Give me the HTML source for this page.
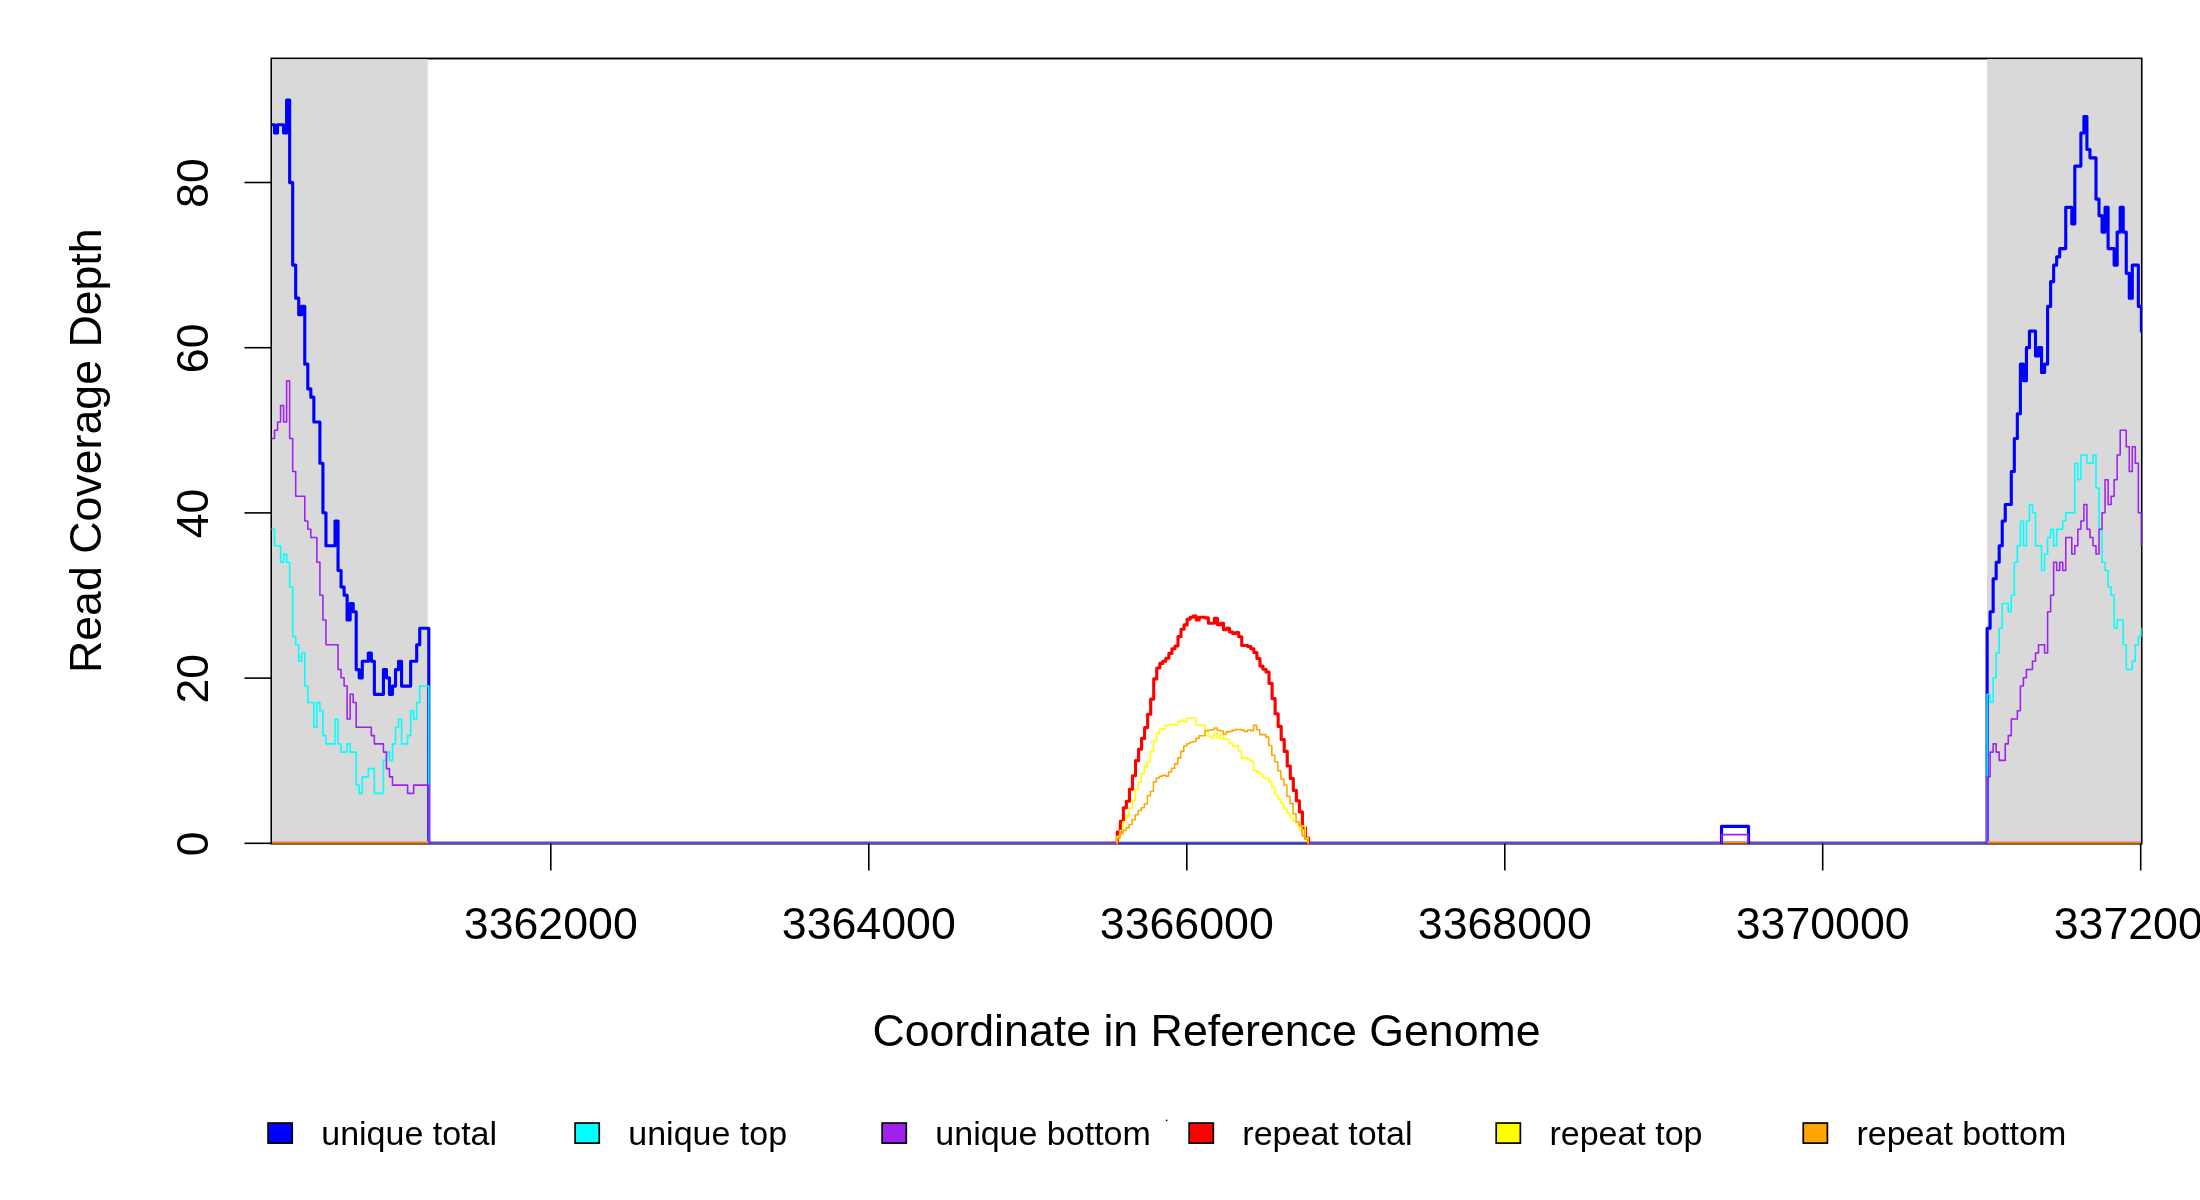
<!DOCTYPE html>
<html><head><meta charset="utf-8"><title>Read Coverage Depth</title>
<style>
html,body{margin:0;padding:0;background:#ffffff;width:2200px;height:1200px;overflow:hidden;}
svg{display:block;will-change:transform;}
text{font-family:"Liberation Sans",sans-serif;fill:#000;}
</style></head><body>
<svg width="2200" height="1200" viewBox="0 0 2200 1200">
<defs><clipPath id="plotclip"><rect x="271.4" y="57" width="1870.3" height="786.9"/></clipPath></defs>
<rect x="0" y="0" width="2200" height="1200" fill="#ffffff"/>
<rect x="271.4" y="58.5" width="1870.2" height="785.1" fill="none" stroke="#000" stroke-width="1.9"/>
<rect x="272.0" y="59.1" width="155.7" height="784.4" fill="#d9d9d9"/>
<rect x="1987.1" y="59.1" width="153.8" height="784.4" fill="#d9d9d9"/>
<g clip-path="url(#plotclip)">
<rect x="428.0" y="841" width="689.0" height="1" fill="#c890cc" shape-rendering="crispEdges"/>
<rect x="428.0" y="842" width="689.0" height="1" fill="#4b4bf5" shape-rendering="crispEdges"/>
<rect x="428.0" y="843" width="689.0" height="1" fill="#5e5a9a" shape-rendering="crispEdges"/>
<rect x="428.0" y="844" width="689.0" height="1" fill="#6a686e" shape-rendering="crispEdges"/>
<rect x="1117.0" y="841" width="191.0" height="1" fill="#c4c4f8" shape-rendering="crispEdges"/>
<rect x="1117.0" y="842" width="191.0" height="1" fill="#4b4bf5" shape-rendering="crispEdges"/>
<rect x="1117.0" y="843" width="191.0" height="1" fill="#2c3c98" shape-rendering="crispEdges"/>
<rect x="1117.0" y="844" width="191.0" height="1" fill="#6e6e70" shape-rendering="crispEdges"/>
<rect x="1308.0" y="841" width="679.0" height="1" fill="#c890cc" shape-rendering="crispEdges"/>
<rect x="1308.0" y="842" width="679.0" height="1" fill="#4b4bf5" shape-rendering="crispEdges"/>
<rect x="1308.0" y="843" width="679.0" height="1" fill="#5e5a9a" shape-rendering="crispEdges"/>
<rect x="1308.0" y="844" width="679.0" height="1" fill="#6a686e" shape-rendering="crispEdges"/>
<path d="M271.50 124.80 L274.52 124.80 L274.52 133.06 L277.55 133.06 L277.55 124.80 L280.57 124.80 L280.57 124.80 L283.60 124.80 L283.60 133.06 L286.62 133.06 L286.62 100.04 L289.65 100.04 L289.65 182.58 L292.68 182.58 L292.68 265.12 L295.70 265.12 L295.70 298.14 L298.73 298.14 L298.73 314.64 L301.75 314.64 L301.75 306.39 L304.77 306.39 L304.77 364.17 L307.80 364.17 L307.80 388.93 L310.82 388.93 L310.82 397.18 L313.85 397.18 L313.85 421.95 L316.88 421.95 L316.88 421.95 L319.90 421.95 L319.90 463.22 L322.93 463.22 L322.93 512.74 L325.95 512.74 L325.95 545.76 L328.98 545.76 L328.98 545.76 L332.00 545.76 L332.00 545.76 L335.02 545.76 L335.02 520.99 L338.05 520.99 L338.05 570.52 L341.07 570.52 L341.07 587.03 L344.10 587.03 L344.10 595.28 L347.12 595.28 L347.12 620.04 L350.15 620.04 L350.15 603.53 L353.18 603.53 L353.18 611.79 L356.20 611.79 L356.20 669.57 L359.23 669.57 L359.23 677.82 L362.25 677.82 L362.25 661.31 L365.27 661.31 L365.27 661.31 L368.30 661.31 L368.30 653.06 L371.32 653.06 L371.32 661.31 L374.35 661.31 L374.35 694.33 L377.38 694.33 L377.38 694.33 L380.40 694.33 L380.40 694.33 L383.43 694.33 L383.43 669.57 L386.45 669.57 L386.45 677.82 L389.48 677.82 L389.48 694.33 L392.50 694.33 L392.50 686.07 L395.52 686.07 L395.52 669.57 L398.55 669.57 L398.55 661.31 L401.57 661.31 L401.57 686.07 L404.60 686.07 L404.60 686.07 L407.62 686.07 L407.62 686.07 L410.65 686.07 L410.65 661.31 L413.67 661.31 L413.67 661.31 L416.70 661.31 L416.70 644.80 L419.73 644.80 L419.73 628.30 L422.75 628.30 L422.75 628.30 L425.77 628.30 L425.77 628.30 L428.80 628.30 L428.80 842.90" fill="none" stroke="#0000ff" stroke-width="3.125" stroke-linejoin="round" stroke-linecap="round"/>
<path d="M1987.10 842.90 L1987.10 628.30 L1990.12 628.30 L1990.12 611.79 L1993.15 611.79 L1993.15 578.77 L1996.17 578.77 L1996.17 562.26 L1999.20 562.26 L1999.20 545.76 L2002.22 545.76 L2002.22 520.99 L2005.25 520.99 L2005.25 504.49 L2008.27 504.49 L2008.27 504.49 L2011.30 504.49 L2011.30 471.47 L2014.32 471.47 L2014.32 438.45 L2017.35 438.45 L2017.35 413.69 L2020.38 413.69 L2020.38 364.17 L2023.40 364.17 L2023.40 380.68 L2026.42 380.68 L2026.42 347.66 L2029.45 347.66 L2029.45 331.15 L2032.47 331.15 L2032.47 331.15 L2035.50 331.15 L2035.50 355.91 L2038.52 355.91 L2038.52 347.66 L2041.55 347.66 L2041.55 372.42 L2044.57 372.42 L2044.57 364.17 L2047.60 364.17 L2047.60 306.39 L2050.62 306.39 L2050.62 281.63 L2053.65 281.63 L2053.65 265.12 L2056.67 265.12 L2056.67 256.87 L2059.70 256.87 L2059.70 248.61 L2062.72 248.61 L2062.72 248.61 L2065.75 248.61 L2065.75 207.34 L2068.78 207.34 L2068.78 207.34 L2071.80 207.34 L2071.80 223.85 L2074.82 223.85 L2074.82 166.07 L2077.85 166.07 L2077.85 166.07 L2080.88 166.07 L2080.88 133.06 L2083.90 133.06 L2083.90 116.55 L2086.92 116.55 L2086.92 149.56 L2089.95 149.56 L2089.95 157.82 L2092.97 157.82 L2092.97 157.82 L2096.00 157.82 L2096.00 199.09 L2099.03 199.09 L2099.03 215.60 L2102.05 215.60 L2102.05 232.10 L2105.07 232.10 L2105.07 207.34 L2108.10 207.34 L2108.10 248.61 L2111.12 248.61 L2111.12 248.61 L2114.15 248.61 L2114.15 265.12 L2117.17 265.12 L2117.17 232.10 L2120.20 232.10 L2120.20 207.34 L2123.22 207.34 L2123.22 232.10 L2126.25 232.10 L2126.25 273.37 L2129.28 273.37 L2129.28 298.14 L2132.30 298.14 L2132.30 265.12 L2135.32 265.12 L2135.32 265.12 L2138.35 265.12 L2138.35 306.39 L2141.38 306.39 L2141.38 331.15" fill="none" stroke="#0000ff" stroke-width="3.125" stroke-linejoin="round" stroke-linecap="round"/>
<path d="M1721.5 842.90 L1721.5 826.39 L1748.5 826.39 L1748.5 842.90" fill="none" stroke="#0000ff" stroke-width="3.125" stroke-linejoin="round" stroke-linecap="round"/>
<path d="M271.50 529.25 L274.52 529.25 L274.52 545.76 L277.55 545.76 L277.55 545.76 L280.57 545.76 L280.57 562.26 L283.60 562.26 L283.60 554.01 L286.62 554.01 L286.62 562.26 L289.65 562.26 L289.65 587.03 L292.68 587.03 L292.68 636.55 L295.70 636.55 L295.70 644.80 L298.73 644.80 L298.73 661.31 L301.75 661.31 L301.75 653.06 L304.77 653.06 L304.77 686.07 L307.80 686.07 L307.80 702.58 L310.82 702.58 L310.82 702.58 L313.85 702.58 L313.85 727.34 L316.88 727.34 L316.88 702.58 L319.90 702.58 L319.90 710.84 L322.93 710.84 L322.93 735.60 L325.95 735.60 L325.95 743.85 L328.98 743.85 L328.98 743.85 L332.00 743.85 L332.00 743.85 L335.02 743.85 L335.02 719.09 L338.05 719.09 L338.05 743.85 L341.07 743.85 L341.07 752.11 L344.10 752.11 L344.10 752.11 L347.12 752.11 L347.12 743.85 L350.15 743.85 L350.15 752.11 L353.18 752.11 L353.18 752.11 L356.20 752.11 L356.20 785.12 L359.23 785.12 L359.23 793.38 L362.25 793.38 L362.25 776.87 L365.27 776.87 L365.27 776.87 L368.30 776.87 L368.30 768.61 L371.32 768.61 L371.32 768.61 L374.35 768.61 L374.35 793.38 L377.38 793.38 L377.38 793.38 L380.40 793.38 L380.40 793.38 L383.43 793.38 L383.43 760.36 L386.45 760.36 L386.45 752.11 L389.48 752.11 L389.48 760.36 L392.50 760.36 L392.50 743.85 L395.52 743.85 L395.52 727.34 L398.55 727.34 L398.55 719.09 L401.57 719.09 L401.57 743.85 L404.60 743.85 L404.60 743.85 L407.62 743.85 L407.62 735.60 L410.65 735.60 L410.65 710.84 L413.67 710.84 L413.67 719.09 L416.70 719.09 L416.70 702.58 L419.73 702.58 L419.73 686.07 L422.75 686.07 L422.75 686.07 L425.77 686.07 L425.77 686.07 L428.80 686.07 L428.80 842.90" fill="none" stroke="#00ffff" stroke-width="1.5625" stroke-linejoin="round" stroke-linecap="round"/>
<path d="M1987.10 842.90 L1987.10 694.33 L1990.12 694.33 L1990.12 702.58 L1993.15 702.58 L1993.15 677.82 L1996.17 677.82 L1996.17 653.06 L1999.20 653.06 L1999.20 628.30 L2002.22 628.30 L2002.22 603.53 L2005.25 603.53 L2005.25 603.53 L2008.27 603.53 L2008.27 611.79 L2011.30 611.79 L2011.30 595.28 L2014.32 595.28 L2014.32 562.26 L2017.35 562.26 L2017.35 545.76 L2020.38 545.76 L2020.38 520.99 L2023.40 520.99 L2023.40 545.76 L2026.42 545.76 L2026.42 520.99 L2029.45 520.99 L2029.45 504.49 L2032.47 504.49 L2032.47 512.74 L2035.50 512.74 L2035.50 545.76 L2038.52 545.76 L2038.52 545.76 L2041.55 545.76 L2041.55 570.52 L2044.57 570.52 L2044.57 554.01 L2047.60 554.01 L2047.60 537.50 L2050.62 537.50 L2050.62 529.25 L2053.65 529.25 L2053.65 545.76 L2056.67 545.76 L2056.67 529.25 L2059.70 529.25 L2059.70 529.25 L2062.72 529.25 L2062.72 520.99 L2065.75 520.99 L2065.75 512.74 L2068.78 512.74 L2068.78 512.74 L2071.80 512.74 L2071.80 512.74 L2074.82 512.74 L2074.82 463.22 L2077.85 463.22 L2077.85 479.72 L2080.88 479.72 L2080.88 454.96 L2083.90 454.96 L2083.90 454.96 L2086.92 454.96 L2086.92 463.22 L2089.95 463.22 L2089.95 463.22 L2092.97 463.22 L2092.97 454.96 L2096.00 454.96 L2096.00 487.98 L2099.03 487.98 L2099.03 529.25 L2102.05 529.25 L2102.05 562.26 L2105.07 562.26 L2105.07 570.52 L2108.10 570.52 L2108.10 587.03 L2111.12 587.03 L2111.12 595.28 L2114.15 595.28 L2114.15 628.30 L2117.17 628.30 L2117.17 620.04 L2120.20 620.04 L2120.20 620.04 L2123.22 620.04 L2123.22 644.80 L2126.25 644.80 L2126.25 669.57 L2129.28 669.57 L2129.28 669.57 L2132.30 669.57 L2132.30 661.31 L2135.32 661.31 L2135.32 644.80 L2138.35 644.80 L2138.35 636.55 L2141.38 636.55 L2141.38 628.30" fill="none" stroke="#00ffff" stroke-width="1.5625" stroke-linejoin="round" stroke-linecap="round"/>
<path d="M271.50 438.45 L274.52 438.45 L274.52 430.20 L277.55 430.20 L277.55 421.95 L280.57 421.95 L280.57 405.44 L283.60 405.44 L283.60 421.95 L286.62 421.95 L286.62 380.68 L289.65 380.68 L289.65 438.45 L292.68 438.45 L292.68 471.47 L295.70 471.47 L295.70 496.23 L298.73 496.23 L298.73 496.23 L301.75 496.23 L301.75 496.23 L304.77 496.23 L304.77 520.99 L307.80 520.99 L307.80 529.25 L310.82 529.25 L310.82 537.50 L313.85 537.50 L313.85 537.50 L316.88 537.50 L316.88 562.26 L319.90 562.26 L319.90 595.28 L322.93 595.28 L322.93 620.04 L325.95 620.04 L325.95 644.80 L328.98 644.80 L328.98 644.80 L332.00 644.80 L332.00 644.80 L335.02 644.80 L335.02 644.80 L338.05 644.80 L338.05 669.57 L341.07 669.57 L341.07 677.82 L344.10 677.82 L344.10 686.07 L347.12 686.07 L347.12 719.09 L350.15 719.09 L350.15 694.33 L353.18 694.33 L353.18 702.58 L356.20 702.58 L356.20 727.34 L359.23 727.34 L359.23 727.34 L362.25 727.34 L362.25 727.34 L365.27 727.34 L365.27 727.34 L368.30 727.34 L368.30 727.34 L371.32 727.34 L371.32 735.60 L374.35 735.60 L374.35 743.85 L377.38 743.85 L377.38 743.85 L380.40 743.85 L380.40 743.85 L383.43 743.85 L383.43 752.11 L386.45 752.11 L386.45 768.61 L389.48 768.61 L389.48 776.87 L392.50 776.87 L392.50 785.12 L395.52 785.12 L395.52 785.12 L398.55 785.12 L398.55 785.12 L401.57 785.12 L401.57 785.12 L404.60 785.12 L404.60 785.12 L407.62 785.12 L407.62 793.38 L410.65 793.38 L410.65 793.38 L413.67 793.38 L413.67 785.12 L416.70 785.12 L416.70 785.12 L419.73 785.12 L419.73 785.12 L422.75 785.12 L422.75 785.12 L425.77 785.12 L425.77 785.12 L428.80 785.12 L428.80 842.90" fill="none" stroke="#a020f0" stroke-width="1.5625" stroke-linejoin="round" stroke-linecap="round"/>
<path d="M1987.10 842.90 L1987.10 776.87 L1990.12 776.87 L1990.12 752.11 L1993.15 752.11 L1993.15 743.85 L1996.17 743.85 L1996.17 752.11 L1999.20 752.11 L1999.20 760.36 L2002.22 760.36 L2002.22 760.36 L2005.25 760.36 L2005.25 743.85 L2008.27 743.85 L2008.27 735.60 L2011.30 735.60 L2011.30 719.09 L2014.32 719.09 L2014.32 719.09 L2017.35 719.09 L2017.35 710.84 L2020.38 710.84 L2020.38 686.07 L2023.40 686.07 L2023.40 677.82 L2026.42 677.82 L2026.42 669.57 L2029.45 669.57 L2029.45 669.57 L2032.47 669.57 L2032.47 661.31 L2035.50 661.31 L2035.50 653.06 L2038.52 653.06 L2038.52 644.80 L2041.55 644.80 L2041.55 644.80 L2044.57 644.80 L2044.57 653.06 L2047.60 653.06 L2047.60 611.79 L2050.62 611.79 L2050.62 595.28 L2053.65 595.28 L2053.65 562.26 L2056.67 562.26 L2056.67 570.52 L2059.70 570.52 L2059.70 562.26 L2062.72 562.26 L2062.72 570.52 L2065.75 570.52 L2065.75 537.50 L2068.78 537.50 L2068.78 537.50 L2071.80 537.50 L2071.80 554.01 L2074.82 554.01 L2074.82 545.76 L2077.85 545.76 L2077.85 529.25 L2080.88 529.25 L2080.88 520.99 L2083.90 520.99 L2083.90 504.49 L2086.92 504.49 L2086.92 529.25 L2089.95 529.25 L2089.95 537.50 L2092.97 537.50 L2092.97 545.76 L2096.00 545.76 L2096.00 554.01 L2099.03 554.01 L2099.03 529.25 L2102.05 529.25 L2102.05 512.74 L2105.07 512.74 L2105.07 479.72 L2108.10 479.72 L2108.10 504.49 L2111.12 504.49 L2111.12 496.23 L2114.15 496.23 L2114.15 479.72 L2117.17 479.72 L2117.17 454.96 L2120.20 454.96 L2120.20 430.20 L2123.22 430.20 L2123.22 430.20 L2126.25 430.20 L2126.25 446.71 L2129.28 446.71 L2129.28 471.47 L2132.30 471.47 L2132.30 446.71 L2135.32 446.71 L2135.32 463.22 L2138.35 463.22 L2138.35 512.74 L2141.38 512.74 L2141.38 545.76" fill="none" stroke="#a020f0" stroke-width="1.5625" stroke-linejoin="round" stroke-linecap="round"/>
<path d="M1721.7 842.90 L1721.7 834.65 L1748 834.65 L1748 842.90" fill="none" stroke="#a020f0" stroke-width="1.5625" stroke-linejoin="round" stroke-linecap="round"/>
<path d="M1117.30 842.90 L1117.30 832.10 L1120.34 832.10 L1120.34 821.30 L1123.37 821.30 L1123.37 807.80 L1126.40 807.80 L1126.40 801.30 L1129.44 801.30 L1129.44 789.30 L1132.47 789.30 L1132.47 775.80 L1135.51 775.80 L1135.51 760.60 L1138.54 760.60 L1138.54 749.30 L1141.58 749.30 L1141.58 738.40 L1144.62 738.40 L1144.62 727.60 L1147.65 727.60 L1147.65 714.30 L1150.68 714.30 L1150.68 699.10 L1153.72 699.10 L1153.72 678.90 L1156.75 678.90 L1156.75 668.00 L1159.79 668.00 L1159.79 663.40 L1162.83 663.40 L1162.83 661.20 L1165.86 661.20 L1165.86 658.30 L1168.89 658.30 L1168.89 653.40 L1171.93 653.40 L1171.93 648.80 L1174.96 648.80 L1174.96 646.00 L1178.00 646.00 L1178.00 636.60 L1181.03 636.60 L1181.03 629.30 L1184.07 629.30 L1184.07 624.90 L1187.11 624.90 L1187.11 619.30 L1190.14 619.30 L1190.14 617.30 L1193.17 617.30 L1193.17 616.00 L1196.21 616.00 L1196.21 620.00 L1199.24 620.00 L1199.24 617.30 L1202.28 617.30 L1202.28 617.30 L1205.32 617.30 L1205.32 617.90 L1208.35 617.90 L1208.35 623.30 L1211.38 623.30 L1211.38 623.30 L1214.42 623.30 L1214.42 618.20 L1217.45 618.20 L1217.45 624.70 L1220.49 624.70 L1220.49 623.30 L1223.52 623.30 L1223.52 629.80 L1226.56 629.80 L1226.56 628.40 L1229.60 628.40 L1229.60 632.00 L1232.63 632.00 L1232.63 633.40 L1235.66 633.40 L1235.66 632.50 L1238.70 632.50 L1238.70 636.80 L1241.73 636.80 L1241.73 645.50 L1244.77 645.50 L1244.77 645.50 L1247.80 645.50 L1247.80 646.60 L1250.84 646.60 L1250.84 648.80 L1253.88 648.80 L1253.88 652.50 L1256.91 652.50 L1256.91 658.50 L1259.94 658.50 L1259.94 666.10 L1262.98 666.10 L1262.98 669.30 L1266.01 669.30 L1266.01 672.00 L1269.05 672.00 L1269.05 683.40 L1272.09 683.40 L1272.09 698.60 L1275.12 698.60 L1275.12 713.80 L1278.15 713.80 L1278.15 726.40 L1281.19 726.40 L1281.19 739.50 L1284.22 739.50 L1284.22 751.40 L1287.26 751.40 L1287.26 766.00 L1290.30 766.00 L1290.30 778.50 L1293.33 778.50 L1293.33 790.40 L1296.37 790.40 L1296.37 800.70 L1299.40 800.70 L1299.40 811.90 L1302.43 811.90 L1302.43 827.80 L1305.47 827.80 L1305.47 838.10 L1308.50 838.10 L1308.50 842.90" fill="none" stroke="#ff0000" stroke-width="3.125" stroke-linejoin="round" stroke-linecap="round"/>
<path d="M1117.00 842.90 L1117.00 836.50 L1120.04 836.50 L1120.04 830.50 L1123.07 830.50 L1123.07 821.80 L1126.11 821.80 L1126.11 815.90 L1129.14 815.90 L1129.14 808.30 L1132.17 808.30 L1132.17 800.20 L1135.21 800.20 L1135.21 789.30 L1138.24 789.30 L1138.24 781.80 L1141.28 781.80 L1141.28 773.60 L1144.32 773.60 L1144.32 766.80 L1147.35 766.80 L1147.35 761.70 L1150.38 761.70 L1150.38 751.40 L1153.42 751.40 L1153.42 740.60 L1156.45 740.60 L1156.45 733.50 L1159.49 733.50 L1159.49 729.30 L1162.53 729.30 L1162.53 728.70 L1165.56 728.70 L1165.56 725.70 L1168.60 725.70 L1168.60 725.00 L1171.63 725.00 L1171.63 724.30 L1174.66 724.30 L1174.66 725.30 L1177.70 725.30 L1177.70 721.70 L1180.73 721.70 L1180.73 720.30 L1183.77 720.30 L1183.77 722.00 L1186.81 722.00 L1186.81 718.00 L1189.84 718.00 L1189.84 718.00 L1192.88 718.00 L1192.88 718.00 L1195.91 718.00 L1195.91 725.00 L1198.94 725.00 L1198.94 725.20 L1201.98 725.20 L1201.98 725.20 L1205.02 725.20 L1205.02 730.30 L1208.05 730.30 L1208.05 736.00 L1211.09 736.00 L1211.09 738.00 L1214.12 738.00 L1214.12 733.30 L1217.15 733.30 L1217.15 738.00 L1220.19 738.00 L1220.19 735.00 L1223.22 735.00 L1223.22 739.30 L1226.26 739.30 L1226.26 739.30 L1229.30 739.30 L1229.30 743.30 L1232.33 743.30 L1232.33 746.00 L1235.37 746.00 L1235.37 746.00 L1238.40 746.00 L1238.40 751.00 L1241.43 751.00 L1241.43 758.50 L1244.47 758.50 L1244.47 757.70 L1247.51 757.70 L1247.51 759.50 L1250.54 759.50 L1250.54 761.20 L1253.58 761.20 L1253.58 770.40 L1256.61 770.40 L1256.61 772.00 L1259.64 772.00 L1259.64 774.20 L1262.68 774.20 L1262.68 778.00 L1265.71 778.00 L1265.71 778.00 L1268.75 778.00 L1268.75 781.80 L1271.79 781.80 L1271.79 787.20 L1274.82 787.20 L1274.82 794.80 L1277.86 794.80 L1277.86 799.10 L1280.89 799.10 L1280.89 803.40 L1283.92 803.40 L1283.92 809.40 L1286.96 809.40 L1286.96 813.20 L1289.99 813.20 L1289.99 817.50 L1293.03 817.50 L1293.03 821.30 L1296.07 821.30 L1296.07 822.90 L1299.10 822.90 L1299.10 830.00 L1302.13 830.00 L1302.13 826.00 L1305.17 826.00 L1305.17 838.00 L1308.20 838.00 L1308.20 842.90" fill="none" stroke="#ffff00" stroke-width="1.5625" stroke-linejoin="round" stroke-linecap="round"/>
<path d="M1117.00 842.90 L1117.00 838.10 L1120.04 838.10 L1120.04 833.80 L1123.07 833.80 L1123.07 830.50 L1126.11 830.50 L1126.11 827.80 L1129.14 827.80 L1129.14 824.50 L1132.17 824.50 L1132.17 819.70 L1135.21 819.70 L1135.21 814.80 L1138.24 814.80 L1138.24 810.50 L1141.28 810.50 L1141.28 807.80 L1144.32 807.80 L1144.32 804.00 L1147.35 804.00 L1147.35 795.80 L1150.38 795.80 L1150.38 791.50 L1153.42 791.50 L1153.42 781.80 L1156.45 781.80 L1156.45 778.00 L1159.49 778.00 L1159.49 776.30 L1162.53 776.30 L1162.53 775.30 L1165.56 775.30 L1165.56 776.10 L1168.60 776.10 L1168.60 772.00 L1171.63 772.00 L1171.63 768.20 L1174.66 768.20 L1174.66 763.90 L1177.70 763.90 L1177.70 757.90 L1180.73 757.90 L1180.73 751.40 L1183.77 751.40 L1183.77 746.00 L1186.81 746.00 L1186.81 743.80 L1189.84 743.80 L1189.84 742.20 L1192.88 742.20 L1192.88 741.50 L1195.91 741.50 L1195.91 738.40 L1198.94 738.40 L1198.94 735.70 L1201.98 735.70 L1201.98 735.70 L1205.02 735.70 L1205.02 730.70 L1208.05 730.70 L1208.05 730.20 L1211.09 730.20 L1211.09 729.70 L1214.12 729.70 L1214.12 728.00 L1217.15 728.00 L1217.15 730.30 L1220.19 730.30 L1220.19 731.00 L1223.22 731.00 L1223.22 734.00 L1226.26 734.00 L1226.26 731.90 L1229.30 731.90 L1229.30 731.40 L1232.33 731.40 L1232.33 730.30 L1235.37 730.30 L1235.37 729.50 L1238.40 729.50 L1238.40 729.50 L1241.43 729.50 L1241.43 730.30 L1244.47 730.30 L1244.47 731.40 L1247.51 731.40 L1247.51 730.00 L1250.54 730.00 L1250.54 730.60 L1253.58 730.60 L1253.58 725.20 L1256.61 725.20 L1256.61 729.80 L1259.64 729.80 L1259.64 734.60 L1262.68 734.60 L1262.68 734.60 L1265.71 734.60 L1265.71 737.10 L1268.75 737.10 L1268.75 745.50 L1271.79 745.50 L1271.79 755.20 L1274.82 755.20 L1274.82 761.70 L1277.86 761.70 L1277.86 770.70 L1280.89 770.70 L1280.89 779.00 L1283.92 779.00 L1283.92 785.00 L1286.96 785.00 L1286.96 796.40 L1289.99 796.40 L1289.99 803.60 L1293.03 803.60 L1293.03 813.70 L1296.07 813.70 L1296.07 821.80 L1299.10 821.80 L1299.10 825.60 L1302.13 825.60 L1302.13 835.90 L1305.17 835.90 L1305.17 839.20 L1308.20 839.20 L1308.20 842.90" fill="none" stroke="#ffa500" stroke-width="1.5625" stroke-linejoin="round" stroke-linecap="round"/>
<rect x="272.0" y="841" width="156.0" height="1" fill="#e09aa0" shape-rendering="crispEdges"/>
<rect x="272.0" y="842" width="156.0" height="1" fill="#ff8c00" shape-rendering="crispEdges"/>
<rect x="272.0" y="843" width="156.0" height="1" fill="#9c5c00" shape-rendering="crispEdges"/>
<rect x="272.0" y="844" width="156.0" height="1" fill="#b0b4bc" shape-rendering="crispEdges"/>
<rect x="1987.5" y="841" width="153.5" height="1" fill="#e09aa0" shape-rendering="crispEdges"/>
<rect x="1987.5" y="842" width="153.5" height="1" fill="#ff8c00" shape-rendering="crispEdges"/>
<rect x="1987.5" y="843" width="153.5" height="1" fill="#9c5c00" shape-rendering="crispEdges"/>
<rect x="1987.5" y="844" width="153.5" height="1" fill="#b0b4bc" shape-rendering="crispEdges"/>
<rect x="1723.0" y="842" width="24.0" height="1" fill="#ff8c00" shape-rendering="crispEdges"/>
<rect x="1723.0" y="843" width="24.0" height="1" fill="#9c5c00" shape-rendering="crispEdges"/>
</g>
<line x1="244.5" y1="843.30" x2="271.5" y2="843.30" stroke="#000" stroke-width="1.6"/>
<line x1="244.5" y1="678.10" x2="271.5" y2="678.10" stroke="#000" stroke-width="1.6"/>
<line x1="244.5" y1="512.90" x2="271.5" y2="512.90" stroke="#000" stroke-width="1.6"/>
<line x1="244.5" y1="347.70" x2="271.5" y2="347.70" stroke="#000" stroke-width="1.6"/>
<line x1="244.5" y1="182.50" x2="271.5" y2="182.50" stroke="#000" stroke-width="1.6"/>
<line x1="550.80" y1="843.5" x2="550.80" y2="870.5" stroke="#000" stroke-width="1.6"/>
<line x1="868.80" y1="843.5" x2="868.80" y2="870.5" stroke="#000" stroke-width="1.6"/>
<line x1="1186.80" y1="843.5" x2="1186.80" y2="870.5" stroke="#000" stroke-width="1.6"/>
<line x1="1504.80" y1="843.5" x2="1504.80" y2="870.5" stroke="#000" stroke-width="1.6"/>
<line x1="1822.70" y1="843.5" x2="1822.70" y2="870.5" stroke="#000" stroke-width="1.6"/>
<line x1="2140.70" y1="843.5" x2="2140.70" y2="870.5" stroke="#000" stroke-width="1.6"/>
<text x="550.80" y="939" font-size="44.7" text-anchor="middle">3362000</text>
<text x="868.80" y="939" font-size="44.7" text-anchor="middle">3364000</text>
<text x="1186.80" y="939" font-size="44.7" text-anchor="middle">3366000</text>
<text x="1504.80" y="939" font-size="44.7" text-anchor="middle">3368000</text>
<text x="1822.70" y="939" font-size="44.7" text-anchor="middle">3370000</text>
<text x="2140.70" y="939" font-size="44.7" text-anchor="middle">3372000</text>
<text transform="translate(208 843.90) rotate(-90)" font-size="44.7" text-anchor="middle">0</text>
<text transform="translate(208 678.70) rotate(-90)" font-size="44.7" text-anchor="middle">20</text>
<text transform="translate(208 513.50) rotate(-90)" font-size="44.7" text-anchor="middle">40</text>
<text transform="translate(208 348.30) rotate(-90)" font-size="44.7" text-anchor="middle">60</text>
<text transform="translate(208 183.10) rotate(-90)" font-size="44.7" text-anchor="middle">80</text>
<text x="1206.5" y="1046" font-size="44.7" text-anchor="middle">Coordinate in Reference Genome</text>
<text transform="translate(100.8 450.7) rotate(-90)" font-size="44.7" text-anchor="middle">Read Coverage Depth</text>
<rect x="268.05" y="1123.05" width="24.15" height="20.05" fill="#0000ff" stroke="#000" stroke-width="1.7"/>
<text x="321.25" y="1145" font-size="34">unique total</text>
<rect x="575.09" y="1123.05" width="24.15" height="20.05" fill="#00ffff" stroke="#000" stroke-width="1.7"/>
<text x="628.29" y="1145" font-size="34">unique top</text>
<rect x="882.13" y="1123.05" width="24.15" height="20.05" fill="#a020f0" stroke="#000" stroke-width="1.7"/>
<text x="935.33" y="1145" font-size="34">unique bottom</text>
<rect x="1189.17" y="1123.05" width="24.15" height="20.05" fill="#ff0000" stroke="#000" stroke-width="1.7"/>
<text x="1242.37" y="1145" font-size="34">repeat total</text>
<rect x="1496.21" y="1123.05" width="24.15" height="20.05" fill="#ffff00" stroke="#000" stroke-width="1.7"/>
<text x="1549.41" y="1145" font-size="34">repeat top</text>
<rect x="1803.25" y="1123.05" width="24.15" height="20.05" fill="#ffa500" stroke="#000" stroke-width="1.7"/>
<text x="1856.45" y="1145" font-size="34">repeat bottom</text>
<circle cx="1166.6" cy="1120.3" r="0.9" fill="#000"/>
</svg>
</body></html>
